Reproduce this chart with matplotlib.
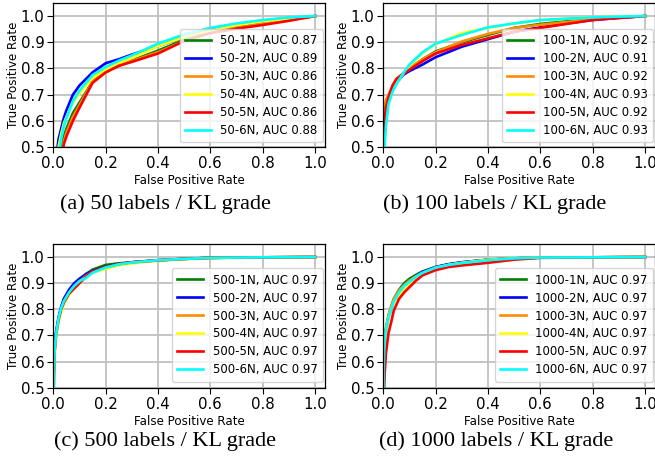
import matplotlib
matplotlib.use("Agg")
import matplotlib.pyplot as plt

# ---------------- data ----------------
series_names = ["1N", "2N", "3N", "4N", "5N", "6N"]
series_colors = ["green", "blue", "darkorange", "yellow", "red", "cyan"]

# (a) 50 labels
labels_a = "50"
auc_a = [0.87, 0.89, 0.86, 0.88, 0.86, 0.88]
fpr_a = [0, 0.01, 0.02, 0.03, 0.04, 0.05, 0.075, 0.1, 0.15, 0.2, 0.25, 0.3, 0.4, 0.5, 0.6, 0.7, 0.8, 0.9, 1.0]
tpr_a_1N = [0, 0.25, 0.38, 0.50, 0.54, 0.57, 0.63, 0.67, 0.75, 0.787, 0.81, 0.83, 0.868, 0.91, 0.94, 0.958, 0.975, 0.988, 1.0]
tpr_a_2N = [0, 0.45, 0.53, 0.57, 0.61, 0.64, 0.70, 0.735, 0.785, 0.82, 0.835, 0.853, 0.885, 0.92, 0.95, 0.963, 0.975, 0.99, 1.0]
tpr_a_3N = [0, 0.22, 0.35, 0.46, 0.52, 0.555, 0.615, 0.66, 0.75, 0.785, 0.81, 0.828, 0.862, 0.905, 0.938, 0.955, 0.97, 0.985, 1.0]
tpr_a_4N = [0, 0.40, 0.50, 0.55, 0.59, 0.615, 0.67, 0.705, 0.765, 0.795, 0.82, 0.84, 0.885, 0.92, 0.945, 0.965, 0.98, 0.99, 1.0]
tpr_a_5N = [0, 0.20, 0.33, 0.44, 0.51, 0.54, 0.60, 0.65, 0.745, 0.785, 0.81, 0.825, 0.857, 0.905, 0.935, 0.952, 0.966, 0.982, 1.0]
tpr_a_6N = [0, 0.35, 0.46, 0.53, 0.58, 0.61, 0.675, 0.715, 0.775, 0.805, 0.83, 0.85, 0.895, 0.93, 0.955, 0.972, 0.985, 0.995, 1.0]

# (b) 100 labels
labels_b = "100"
auc_b = [0.92, 0.91, 0.92, 0.93, 0.92, 0.93]
fpr_b = [0, 0.002, 0.005, 0.01, 0.02, 0.035, 0.05, 0.075, 0.1, 0.15, 0.2, 0.3, 0.4, 0.5, 0.6, 0.7, 0.8, 0.9, 1.0]
tpr_b_1N = [0.3, 0.52, 0.58, 0.63, 0.68, 0.72, 0.745, 0.775, 0.80, 0.835, 0.865, 0.90, 0.928, 0.955, 0.97, 0.98, 0.99, 0.995, 1.0]
tpr_b_2N = [0.3, 0.50, 0.55, 0.62, 0.68, 0.72, 0.745, 0.775, 0.79, 0.815, 0.843, 0.883, 0.912, 0.94, 0.957, 0.972, 0.985, 0.993, 1.0]
tpr_b_3N = [0.45, 0.63, 0.655, 0.68, 0.70, 0.73, 0.75, 0.777, 0.80, 0.835, 0.862, 0.903, 0.932, 0.955, 0.967, 0.977, 0.987, 0.995, 1.0]
tpr_b_4N = [0.3, 0.48, 0.53, 0.60, 0.67, 0.715, 0.74, 0.78, 0.81, 0.86, 0.893, 0.935, 0.955, 0.972, 0.985, 0.99, 0.995, 0.998, 1.0]
tpr_b_5N = [0.4, 0.57, 0.60, 0.65, 0.69, 0.735, 0.76, 0.78, 0.795, 0.828, 0.857, 0.89, 0.915, 0.94, 0.955, 0.97, 0.985, 0.993, 1.0]
tpr_b_6N = [0.3, 0.45, 0.50, 0.58, 0.665, 0.71, 0.74, 0.78, 0.815, 0.862, 0.895, 0.928, 0.957, 0.972, 0.985, 0.99, 0.995, 0.998, 1.0]

# (c) 500 labels
labels_c = "500"
auc_c = [0.97, 0.97, 0.97, 0.97, 0.97, 0.97]
fpr_c = [0, 0.002, 0.005, 0.01, 0.02, 0.03, 0.04, 0.06, 0.08, 0.1, 0.125, 0.15, 0.2, 0.25, 0.3, 0.4, 0.5, 0.6, 0.8, 1.0]
tpr_c_1N = [0.3, 0.55, 0.64, 0.70, 0.76, 0.80, 0.83, 0.865, 0.89, 0.91, 0.935, 0.952, 0.97, 0.976, 0.98, 0.988, 0.993, 0.997, 0.999, 1.0]
tpr_c_2N = [0.3, 0.56, 0.65, 0.71, 0.77, 0.81, 0.84, 0.875, 0.90, 0.917, 0.935, 0.947, 0.963, 0.973, 0.98, 0.988, 0.993, 0.997, 0.999, 1.0]
tpr_c_3N = [0.3, 0.54, 0.63, 0.70, 0.76, 0.80, 0.83, 0.862, 0.888, 0.907, 0.928, 0.943, 0.96, 0.972, 0.979, 0.988, 0.993, 0.997, 0.999, 1.0]
tpr_c_4N = [0.3, 0.53, 0.62, 0.69, 0.75, 0.79, 0.82, 0.855, 0.88, 0.90, 0.922, 0.94, 0.955, 0.968, 0.976, 0.986, 0.992, 0.996, 0.999, 1.0]
tpr_c_5N = [0.3, 0.55, 0.64, 0.70, 0.76, 0.80, 0.825, 0.86, 0.88, 0.90, 0.925, 0.945, 0.962, 0.973, 0.98, 0.987, 0.993, 0.997, 0.999, 1.0]
tpr_c_6N = [0.3, 0.55, 0.64, 0.70, 0.765, 0.805, 0.83, 0.865, 0.89, 0.908, 0.92, 0.94, 0.96, 0.972, 0.979, 0.988, 0.993, 0.997, 0.999, 1.0]

# (d) 1000 labels
labels_d = "1000"
auc_d = [0.97, 0.97, 0.97, 0.97, 0.97, 0.97]
fpr_d = [0, 0.002, 0.005, 0.01, 0.02, 0.03, 0.04, 0.06, 0.08, 0.1, 0.125, 0.15, 0.2, 0.25, 0.3, 0.4, 0.5, 0.6, 0.8, 1.0]
tpr_d_1N = [0.3, 0.60, 0.68, 0.72, 0.775, 0.81, 0.84, 0.875, 0.90, 0.917, 0.932, 0.945, 0.962, 0.972, 0.98, 0.99, 0.995, 0.998, 0.999, 1.0]
tpr_d_2N = [0.3, 0.60, 0.68, 0.72, 0.77, 0.80, 0.83, 0.868, 0.892, 0.908, 0.928, 0.943, 0.962, 0.973, 0.98, 0.99, 0.995, 0.998, 0.999, 1.0]
tpr_d_3N = [0.3, 0.61, 0.69, 0.73, 0.78, 0.81, 0.84, 0.872, 0.893, 0.91, 0.927, 0.94, 0.96, 0.97, 0.977, 0.988, 0.995, 0.998, 0.999, 1.0]
tpr_d_4N = [0.3, 0.58, 0.66, 0.71, 0.765, 0.80, 0.825, 0.855, 0.875, 0.895, 0.915, 0.935, 0.957, 0.97, 0.978, 0.99, 0.995, 0.998, 0.999, 1.0]
tpr_d_5N = [0.2, 0.45, 0.55, 0.63, 0.71, 0.75, 0.795, 0.84, 0.865, 0.885, 0.91, 0.93, 0.95, 0.962, 0.968, 0.978, 0.99, 0.997, 0.999, 1.0]
tpr_d_6N = [0.3, 0.60, 0.68, 0.72, 0.77, 0.80, 0.83, 0.865, 0.89, 0.905, 0.925, 0.94, 0.96, 0.97, 0.977, 0.988, 0.995, 0.998, 0.999, 1.0]

x_ticks = [0.0, 0.2, 0.4, 0.6, 0.8, 1.0]
y_ticks = [0.5, 0.6, 0.7, 0.8, 0.9, 1.0]
captions = ["(a) 50 labels / KL grade", "(b) 100 labels / KL grade",
            "(c) 500 labels / KL grade", "(d) 1000 labels / KL grade"]

# ---------------- figure ----------------
W, H = 655, 462
fig = plt.figure(figsize=(W / 100, H / 100), dpi=100)


def px_axes(left, top, right, bottom):
    return fig.add_axes([left / W, 1 - bottom / H, (right - left) / W, (bottom - top) / H])


panels = [
    (px_axes(53.3, 3, 325, 147), labels_a, auc_a, fpr_a,
     [tpr_a_1N, tpr_a_2N, tpr_a_3N, tpr_a_4N, tpr_a_5N, tpr_a_6N], (323, 142)),
    (px_axes(383.3, 3, 655, 147), labels_b, auc_b, fpr_b,
     [tpr_b_1N, tpr_b_2N, tpr_b_3N, tpr_b_4N, tpr_b_5N, tpr_b_6N], (653, 142)),
    (px_axes(53.3, 244, 325, 387.7), labels_c, auc_c, fpr_c,
     [tpr_c_1N, tpr_c_2N, tpr_c_3N, tpr_c_4N, tpr_c_5N, tpr_c_6N], (323, 381.7)),
    (px_axes(383.3, 244, 655, 387.7), labels_d, auc_d, fpr_d,
     [tpr_d_1N, tpr_d_2N, tpr_d_3N, tpr_d_4N, tpr_d_5N, tpr_d_6N], (653, 381.7)),
]

for ax, lab, aucs, fpr, tprs, leg_px in panels:
    for name, col, auc, tpr in zip(series_names, series_colors, aucs, tprs):
        ax.plot(fpr, tpr, color=col, lw=1.9,
                label=f"{lab}-{name}, AUC {auc:.2f}")
    ax.set_xlim(0.0, 1.038)
    ax.set_ylim(0.5, 1.05)
    ax.set_xticks(x_ticks)
    ax.set_yticks(y_ticks)
    ax.set_xticklabels([f"{v:.1f}" for v in x_ticks])
    ax.set_yticklabels([f"{v:.1f}" for v in y_ticks])
    ax.tick_params(labelsize=10.8, length=4, width=0.8, pad=2.5)
    ax.grid(True, color="#c0c0c0", lw=1.3)
    ax.set_axisbelow(True)
    ax.set_xlabel("False Positive Rate", fontsize=8.6, labelpad=2)
    ax.set_ylabel("True Positive Rate", fontsize=8.6, labelpad=0.5)
    for s in ax.spines.values():
        s.set_linewidth(0.9)
        s.set_color("black")
    # legend anchored at lower-right pixel corner
    bb = ax.get_position()
    ax_l, ax_b = bb.x0 * W, (1 - bb.y0) * H
    ax_w, ax_h = bb.width * W, bb.height * H
    fx = (leg_px[0] - ax_l) / ax_w
    fy = (ax_b - leg_px[1]) / ax_h
    ax.legend(loc="lower right", bbox_to_anchor=(fx, fy), borderaxespad=0,
              fontsize=8.5, labelspacing=0.42, handlelength=2.2,
              borderpad=0.45, handletextpad=0.8, framealpha=0.8, edgecolor="#cccccc")

cap_pos = [(165, 204), (495, 204), (165, 441), (496, 441)]
for (cx, cy), txt in zip(cap_pos, captions):
    fig.text(cx / W, 1 - cy / H, txt, ha="center", va="center",
             fontsize=16, family="Liberation Serif")

fig.savefig("out.png", dpi=100)
